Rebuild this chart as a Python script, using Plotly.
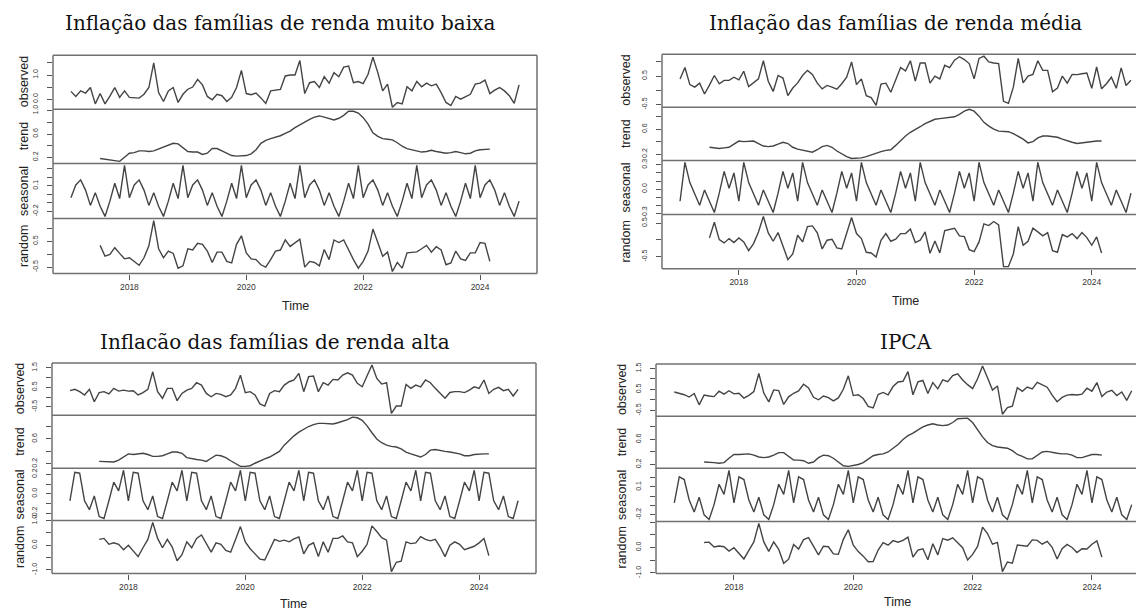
import plotly.graph_objects as go

FIG_W, FIG_H = 1136, 612

# Monthly series, January 2017 to September 2024
START_YEAR = 2017
N_OBS = 93
TREND_START = 6          # centred 2x12 moving average: first value is July 2017
year_ticks = [2018, 2020, 2022, 2024]
year_labels = ["2018", "2020", "2022", "2024"]
row_names = ["observed", "trend", "seasonal", "random"]

# ---------------- Inflação das famílias de renda muito baixa ----------------
muito_baixa_observed = [
    0.32, 0.11, 0.34, 0.25, 0.48, -0.20, 0.23, -0.20, 0.12, 0.48,
    0.07, 0.34, 0.07, 0.06, 0.04, 0.20, 0.48, 1.50, 0.27, -0.10,
    0.34, 0.48, -0.14, 0.20, 0.41, 0.50, 0.82, 0.59, 0.11, -0.03,
    0.20, 0.14, -0.10, 0.07, 0.48, 1.19, 0.23, 0.18, 0.25, 0.05,
    -0.18, 0.34, 0.38, 0.40, 0.96, 1.00, 1.00, 1.60, 0.23, 0.68,
    0.73, 0.48, 0.93, 0.66, 1.10, 0.93, 1.33, 1.37, 0.68, 0.73,
    0.64, 1.03, 1.74, 1.10, 0.34, 0.62, -0.34, -0.14, -0.20, 0.51,
    0.34, 0.73, 0.51, 0.66, 0.55, 0.62, 0.27, -0.14, -0.27, 0.11,
    0.00, 0.11, 0.20, 0.62, 0.66, 0.79, 0.23, 0.37, 0.48, 0.34,
    0.14, -0.18, 0.59]
muito_baixa_trend = [
    0.18, 0.17, 0.15, 0.14, 0.13, 0.20, 0.27, 0.28, 0.31, 0.31,
    0.30, 0.31, 0.34, 0.37, 0.41, 0.44, 0.43, 0.36, 0.30, 0.29,
    0.29, 0.25, 0.27, 0.35, 0.35, 0.31, 0.27, 0.23, 0.22, 0.22,
    0.23, 0.26, 0.33, 0.44, 0.49, 0.52, 0.54, 0.57, 0.61, 0.65,
    0.71, 0.76, 0.81, 0.85, 0.89, 0.91, 0.89, 0.86, 0.84, 0.87,
    0.92, 0.99, 0.99, 0.96, 0.88, 0.77, 0.62, 0.56, 0.52, 0.51,
    0.50, 0.45, 0.39, 0.35, 0.33, 0.31, 0.29, 0.30, 0.32, 0.30,
    0.29, 0.27, 0.28, 0.30, 0.28, 0.26, 0.27, 0.31, 0.33, 0.33,
    0.34]
muito_baixa_seasonal = [-0.04, 0.11, 0.17, 0.05, -0.13, 0.02, -0.14, -0.26, -0.08, 0.13, -0.05, 0.34]
muito_baixa_random = [
    0.34, -0.08, -0.01, 0.25, 0.03, -0.18, -0.14, -0.28, -0.43, -0.14,
    0.32, 1.30, 0.21, -0.14, 0.12, 0.03, -0.54, -0.45, 0.21, 0.16,
    0.42, 0.38, 0.12, -0.32, 0.08, 0.08, -0.28, -0.34, 0.38, 0.71,
    0.05, -0.18, -0.21, -0.41, -0.50, -0.21, 0.12, 0.16, 0.55, 0.30,
    0.45, 0.58, -0.50, -0.28, -0.32, -0.45, 0.18, -0.21, 0.55, 0.45,
    0.55, 0.16, -0.21, -0.54, -0.28, 0.12, 0.97, 0.45, -0.08, 0.08,
    -0.67, -0.32, -0.54, 0.05, 0.08, 0.09, 0.21, 0.34, 0.08, 0.29,
    0.16, -0.41, -0.34, 0.12, -0.18, -0.24, 0.05, 0.05, 0.45, 0.42,
    -0.28]
muito_baixa_ticks = [
    ([0.0, 0.5, 1.0, 1.5], ["0.0", "", "1.0", ""]),
    ([0.2, 0.4, 0.6, 0.8, 1.0], ["0.2", "", "0.6", "", "1.0"]),
    ([-0.2, -0.1, 0.0, 0.1, 0.2, 0.3], ["-0.2", "", "", "0.1", "", ""]),
    ([-0.5, 0.0, 0.5, 1.0], ["-0.5", "", "0.5", ""]),
]

# ---------------- Inflação das famílias de renda média ----------------
media_observed = [
    0.40, 0.80, 0.20, 0.11, 0.25, -0.13, 0.18, 0.52, 0.23, 0.35,
    0.35, 0.46, 0.37, 0.67, 0.13, 0.25, 0.40, 1.04, 0.32, -0.04,
    0.52, 0.43, -0.19, 0.08, 0.26, 0.52, 0.70, 0.56, 0.25, 0.05,
    0.17, 0.11, 0.04, 0.23, 0.46, 1.00, 0.20, 0.40, -0.19, -0.26,
    -0.53, 0.22, 0.25, -0.07, 0.40, 0.80, 0.68, 1.04, 0.32, 0.96,
    0.96, 0.25, 0.50, 0.40, 0.88, 0.80, 1.06, 1.18, 1.08, 0.94,
    0.40, 1.12, 1.20, 1.00, 0.96, 0.94, -0.39, -0.46, 0.11, 1.12,
    0.26, 0.50, 0.56, 1.04, 0.70, 0.70, -0.05, 0.08, 0.50, 0.25,
    0.56, 0.55, 0.58, 0.61, 0.07, 0.82, 0.05, 0.23, 0.46, 0.07,
    0.79, 0.17, 0.35]
media_trend = [
    0.31, 0.30, 0.29, 0.30, 0.31, 0.36, 0.41, 0.40, 0.41, 0.41,
    0.37, 0.33, 0.32, 0.33, 0.36, 0.39, 0.37, 0.31, 0.28, 0.26,
    0.24, 0.23, 0.27, 0.32, 0.34, 0.31, 0.25, 0.20, 0.16, 0.13,
    0.13, 0.14, 0.16, 0.19, 0.22, 0.24, 0.26, 0.27, 0.34, 0.42,
    0.49, 0.55, 0.59, 0.64, 0.69, 0.73, 0.76, 0.77, 0.78, 0.79,
    0.80, 0.84, 0.89, 0.92, 0.89, 0.81, 0.71, 0.65, 0.60, 0.57,
    0.56, 0.56, 0.53, 0.49, 0.44, 0.38, 0.40, 0.46, 0.49, 0.49,
    0.48, 0.47, 0.44, 0.41, 0.39, 0.37, 0.38, 0.40, 0.41, 0.41,
    0.41]
media_seasonal = [-0.15, 0.33, 0.08, -0.05, -0.20, -0.01, -0.15, -0.29, -0.05, 0.22, 0.01, 0.20]
media_random = [
    0.06, 0.53, 0.01, -0.09, 0.04, -0.08, 0.06, -0.06, -0.32, -0.11,
    0.24, 0.70, 0.21, -0.04, 0.22, -0.16, -0.59, -0.42, 0.14, -0.06,
    0.40, 0.42, 0.21, -0.27, -0.01, 0.02, -0.24, -0.27, 0.19, 0.67,
    0.19, 0.04, -0.37, -0.39, -0.51, -0.01, 0.19, -0.04, 0.02, 0.19,
    0.19, 0.33, -0.08, -0.01, 0.24, -0.40, -0.03, -0.39, 0.28, 0.32,
    0.35, 0.12, 0.10, -0.29, -0.35, -0.06, 0.48, 0.43, 0.55, 0.45,
    -0.80, -0.80, -0.42, 0.40, -0.16, -0.04, 0.35, 0.24, 0.12, 0.22,
    -0.32, -0.37, 0.16, 0.09, 0.19, 0.04, 0.22, 0.07, -0.16, 0.09,
    -0.39]
media_ticks = [
    ([-0.5, 0.0, 0.5, 1.0], ["-0.5", "", "0.5", ""]),
    ([0.2, 0.4, 0.6, 0.8], ["0.2", "", "0.6", ""]),
    ([-0.3, -0.2, -0.1, 0.0, 0.1, 0.2, 0.3], ["-0.3", "", "", "0.0", "", "", "0.3"]),
    ([-0.5, 0.0, 0.5], ["-0.5", "", "0.5"]),
]

# ---------------- Inflação das famílias de renda alta ----------------
alta_observed = [
    0.33, 0.40, 0.28, 0.11, 0.40, -0.24, 0.23, 0.28, 0.16, 0.45,
    0.31, 0.36, 0.31, 0.33, 0.11, 0.23, 0.40, 1.30, 0.28, -0.06,
    0.45, 0.45, -0.18, 0.19, 0.36, 0.45, 0.74, 0.62, 0.19, 0.02,
    0.19, 0.14, 0.02, 0.11, 0.45, 1.13, 0.23, 0.28, 0.11, -0.35,
    -0.46, 0.19, 0.33, 0.28, 0.62, 0.79, 0.88, 1.22, 0.28, 1.05,
    1.08, 0.28, 0.74, 0.62, 0.91, 0.88, 1.13, 1.25, 1.13, 0.71,
    0.53, 1.05, 1.65, 0.96, 0.67, 0.74, -0.83, -0.46, -0.46, 0.65,
    0.45, 0.62, 0.53, 0.88, 0.74, 0.45, 0.19, -0.06, 0.24, 0.28,
    0.28, 0.23, 0.36, 0.53, 0.45, 0.88, 0.19, 0.40, 0.50, 0.33,
    0.40, 0.06, 0.40]
alta_trend = [
    0.24, 0.24, 0.23, 0.23, 0.26, 0.31, 0.36, 0.35, 0.36, 0.37,
    0.35, 0.32, 0.32, 0.33, 0.36, 0.39, 0.39, 0.37, 0.30, 0.28,
    0.27, 0.26, 0.24, 0.29, 0.34, 0.33, 0.30, 0.25, 0.20, 0.16,
    0.16, 0.17, 0.21, 0.25, 0.28, 0.31, 0.35, 0.40, 0.50, 0.58,
    0.65, 0.71, 0.76, 0.80, 0.83, 0.85, 0.85, 0.84, 0.84, 0.86,
    0.88, 0.91, 0.95, 0.94, 0.90, 0.81, 0.70, 0.60, 0.54, 0.50,
    0.48, 0.47, 0.44, 0.39, 0.36, 0.33, 0.31, 0.35, 0.42, 0.43,
    0.41, 0.40, 0.39, 0.38, 0.36, 0.33, 0.33, 0.35, 0.36, 0.36,
    0.36]
alta_seasonal = [-0.07, 0.22, 0.21, -0.07, -0.16, -0.02, -0.23, -0.25, -0.07, 0.12, 0.03, 0.24]
alta_random = [
    0.24, 0.28, 0.04, 0.10, 0.04, -0.18, 0.00, -0.24, -0.46, -0.10,
    0.24, 0.93, 0.28, -0.10, 0.24, -0.07, -0.63, -0.38, 0.14, -0.10,
    0.28, 0.42, 0.07, -0.28, 0.10, 0.04, -0.21, -0.28, 0.24, 0.76,
    0.14, -0.14, -0.35, -0.56, -0.60, -0.21, 0.24, 0.16, 0.21, 0.14,
    0.26, 0.34, -0.35, 0.00, 0.10, -0.46, 0.14, -0.28, 0.28, 0.28,
    0.38, 0.14, 0.10, -0.46, -0.24, 0.04, 0.79, 0.56, 0.31, 0.21,
    -1.07, -0.69, -0.65, 0.14, 0.07, 0.10, 0.35, 0.24, 0.18, 0.24,
    -0.07, -0.46, 0.00, 0.14, 0.04, -0.18, -0.10, -0.04, 0.10, 0.28,
    -0.42]
alta_ticks = [
    ([-0.5, 0.0, 0.5, 1.0, 1.5], ["-0.5", "", "0.5", "", "1.5"]),
    ([0.2, 0.4, 0.6, 0.8], ["0.2", "", "0.6", ""]),
    ([-0.2, -0.1, 0.0, 0.1, 0.2], ["-0.2", "", "0.0", "", "0.2"]),
    ([-1.0, -0.5, 0.0, 0.5, 1.0], ["-1.0", "", "0.0", "", "1.0"]),
]

# ---------------- IPCA ----------------
ipca_observed = [
    0.38, 0.33, 0.25, 0.14, 0.31, -0.23, 0.24, 0.19, 0.16, 0.42, 0.28, 0.44,
    0.29, 0.32, 0.09, 0.22, 0.40, 1.26, 0.33, -0.09, 0.48, 0.45, -0.21, 0.15,
    0.32, 0.43, 0.75, 0.57, 0.13, 0.01, 0.19, 0.11, -0.04, 0.10, 0.51, 1.15,
    0.21, 0.25, 0.07, -0.31, -0.38, 0.26, 0.36, 0.24, 0.64, 0.86, 0.89, 1.35,
    0.25, 0.86, 0.93, 0.31, 0.83, 0.53, 0.96, 0.87, 1.16, 1.25, 0.95, 0.73,
    0.54, 1.01, 1.62, 1.06, 0.47, 0.67, -0.68, -0.36, -0.29, 0.59, 0.41, 0.62,
    0.53, 0.84, 0.71, 0.61, 0.23, -0.08, 0.12, 0.23, 0.26, 0.24, 0.28, 0.56,
    0.42, 0.83, 0.16, 0.38, 0.46, 0.21, 0.38, -0.02, 0.44]
ipca_trend = [
    0.24, 0.24, 0.23, 0.22, 0.23, 0.30, 0.36, 0.36, 0.36, 0.37,
    0.35, 0.32, 0.31, 0.32, 0.35, 0.39, 0.39, 0.33, 0.27, 0.27,
    0.26, 0.22, 0.24, 0.31, 0.35, 0.34, 0.30, 0.24, 0.18, 0.17,
    0.18, 0.20, 0.23, 0.29, 0.34, 0.36, 0.37, 0.40, 0.46, 0.52,
    0.60, 0.66, 0.70, 0.75, 0.80, 0.83, 0.85, 0.83, 0.82, 0.83,
    0.87, 0.93, 0.94, 0.94, 0.87, 0.75, 0.64, 0.55, 0.50, 0.48,
    0.47, 0.46, 0.42, 0.36, 0.33, 0.29, 0.29, 0.35, 0.40, 0.41,
    0.39, 0.38, 0.37, 0.37, 0.35, 0.31, 0.31, 0.33, 0.36, 0.36,
    0.35]
ipca_seasonal = [-0.07, 0.21, 0.18, -0.04, -0.17, -0.01, -0.20, -0.25, -0.09, 0.13, 0.02, 0.28]
ipca_random = [
    0.20, 0.21, 0.02, 0.06, 0.03, -0.14, -0.01, -0.25, -0.45, -0.11,
    0.22, 0.95, 0.22, -0.15, 0.22, -0.07, -0.62, -0.46, 0.12, -0.06,
    0.31, 0.39, 0.06, -0.29, 0.05, 0.03, -0.25, -0.27, 0.32, 0.70,
    0.09, -0.16, -0.34, -0.56, -0.55, -0.10, 0.19, 0.09, 0.27, 0.21,
    0.28, 0.41, -0.38, -0.10, -0.05, -0.48, 0.15, -0.29, 0.35, 0.29,
    0.38, 0.19, -0.01, -0.49, -0.27, 0.04, 0.80, 0.55, 0.13, 0.20,
    -0.95, -0.57, -0.62, 0.10, 0.06, 0.05, 0.30, 0.28, 0.13, 0.24,
    0.01, -0.45, -0.05, 0.12, 0.00, -0.20, -0.05, -0.06, 0.13, 0.26,
    -0.38]
ipca_ticks = [
    ([-0.5, 0.0, 0.5, 1.0, 1.5], ["-0.5", "", "0.5", "", "1.5"]),
    ([0.2, 0.4, 0.6, 0.8], ["0.2", "", "0.6", ""]),
    ([-0.2, -0.1, 0.0, 0.1, 0.2], ["-0.2", "", "", "0.1", ""]),
    ([-1.0, -0.5, 0.0, 0.5, 1.0], ["-1.0", "", "0.0", "", ""]),
]

# ---------------- page layout of the four decomposition plots (pixels) ----------------
panels = [
    dict(title="Inflação das famílias de renda muito baixa",
         series=(muito_baixa_observed, muito_baixa_trend, muito_baixa_seasonal, muito_baixa_random),
         ticks=muito_baixa_ticks,
         x_px=(53, 537), rows_px=(50, 105, 160, 216, 272),
         title_xy=(280, 17), time_xy=(295, 305), label_x=24),
    dict(title="Inflação das famílias de renda média",
         series=(media_observed, media_trend, media_seasonal, media_random),
         ticks=media_ticks,
         x_px=(662, 1149), rows_px=(49, 103, 157, 212, 267),
         title_xy=(895, 17), time_xy=(905, 300), label_x=626),
    dict(title="Inflacão das famílias de renda alta",
         series=(alta_observed, alta_trend, alta_seasonal, alta_random),
         ticks=alta_ticks,
         x_px=(52, 536), rows_px=(363, 416, 470, 523, 577),
         title_xy=(275, 342), time_xy=(293, 608), label_x=20),
    dict(title="IPCA",
         series=(ipca_observed, ipca_trend, ipca_seasonal, ipca_random),
         ticks=ipca_ticks,
         x_px=(656, 1150), rows_px=(364, 417, 470, 524, 577),
         title_xy=(906, 342), time_xy=(897, 606), label_x=622),
]

LINE_COLOR = "#444444"
BOX_COLOR = "#707070"
SANS = "Liberation Sans, Arial, sans-serif"
SERIF = "DejaVu Serif, Liberation Serif, serif"

months = [START_YEAR + k / 12 for k in range(N_OBS)]


def padded(lo, hi, frac=0.04):
    d = (hi - lo) * frac
    return [lo - d, hi + d]


def px_x(x):
    return x / FIG_W


def px_y(y):
    return 1 - y / FIG_H


fig = go.Figure()
layout = dict(
    width=FIG_W, height=FIG_H,
    margin=dict(l=0, r=0, t=0, b=0),
    paper_bgcolor="white", plot_bgcolor="white",
    showlegend=False,
    shapes=[], annotations=[],
)

x_full = padded(months[0], months[-1])
k = 0
for p in panels:
    left, right = p["x_px"]
    rows = p["rows_px"]
    per_px = (x_full[1] - x_full[0]) / (right - left)
    if right > FIG_W:
        x_range = [x_full[0], x_full[0] + (FIG_W - left) * per_px]
        dom_right = 1.0
    else:
        x_range = list(x_full)
        dom_right = px_x(right)

    observed, trend, seasonal12, random_part = p["series"]
    trend_x = months[TREND_START:TREND_START + len(trend)]
    seasonal = [seasonal12[m % 12] for m in range(N_OBS)]
    rows_data = [
        (months, observed),
        (trend_x, trend),
        (months, seasonal),
        (months[TREND_START:TREND_START + len(random_part)], random_part),
    ]

    for r, (xs, ys) in enumerate(rows_data):
        k += 1
        xname = "xaxis" if k == 1 else f"xaxis{k}"
        yname = "yaxis" if k == 1 else f"yaxis{k}"
        xref = "x" if k == 1 else f"x{k}"
        yref = "y" if k == 1 else f"y{k}"
        fig.add_trace(go.Scatter(
            x=xs, y=ys, mode="lines", xaxis=xref, yaxis=yref,
            line=dict(color=LINE_COLOR, width=1.4), hoverinfo="skip"))

        bottom = r == 3
        layout[xname] = dict(
            domain=[px_x(left), dom_right], range=x_range, anchor=yref,
            showgrid=False, zeroline=False, showline=False,
            tickvals=year_ticks if bottom else [], ticktext=year_labels if bottom else [],
            ticks="outside" if bottom else "", ticklen=5, tickcolor="#555",
            showticklabels=bottom,
            tickfont=dict(family=SANS, size=8.5, color="#333"),
        )
        tv, tt = p["ticks"][r]
        layout[yname] = dict(
            domain=[px_y(rows[r + 1]), px_y(rows[r])], range=padded(min(ys), max(ys)),
            anchor=xref, showgrid=False, zeroline=False, showline=False,
            tickvals=tv, ticktext=tt, ticks="outside", ticklen=5, tickcolor="#555",
            tickangle=-90, ticklabelstandoff=6,
            tickfont=dict(family=SANS, size=7, color="#333"),
        )
        layout["annotations"].append(dict(
            text=row_names[r], xref="paper", yref="paper",
            x=px_x(p["label_x"]), y=px_y((rows[r] + rows[r + 1]) / 2),
            textangle=-90, showarrow=False, xanchor="center", yanchor="middle",
            font=dict(family=SANS, size=12.5, color="#222")))

    # frame of the stacked panels
    x0, x1 = px_x(left), px_x(right)
    for y in rows:
        layout["shapes"].append(dict(type="line", xref="paper", yref="paper",
                                     x0=x0, x1=x1, y0=px_y(y), y1=px_y(y),
                                     line=dict(color=BOX_COLOR, width=1.5)))
    for xv in (x0, x1):
        layout["shapes"].append(dict(type="line", xref="paper", yref="paper",
                                     x0=xv, x1=xv, y0=px_y(rows[-1]), y1=px_y(rows[0]),
                                     line=dict(color=BOX_COLOR, width=1.5)))

    tx, ty = p["title_xy"]
    layout["annotations"].append(dict(
        text=p["title"], xref="paper", yref="paper", x=px_x(tx), y=px_y(ty),
        showarrow=False, xanchor="center", yanchor="middle",
        font=dict(family=SERIF, size=20, color="#111")))
    mx, my = p["time_xy"]
    layout["annotations"].append(dict(
        text="Time", xref="paper", yref="paper", x=px_x(mx), y=px_y(my),
        showarrow=False, xanchor="center", yanchor="middle",
        font=dict(family=SANS, size=12.5, color="#222")))

fig.update_layout(**layout)
fig.write_html("out.html")
